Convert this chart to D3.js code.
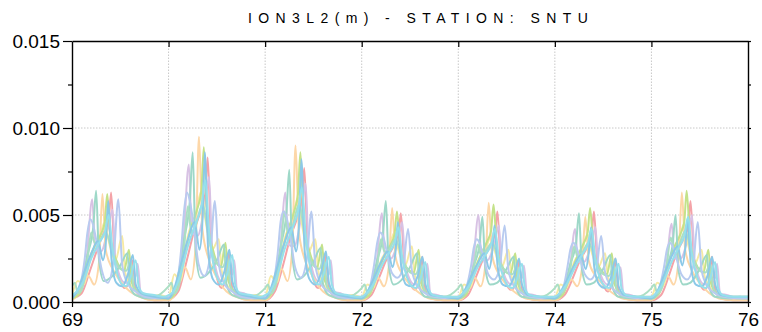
<!DOCTYPE html>
<head>
  <meta charset="utf-8">
  <script src="https://d3js.org/d3.v7.min.js"></script>
</head>
<body style="margin:0">
  <div id="chart"></div>

  <script>
    var width = 762;
    var height = 332;
    var margin = {top: 41, right: 14, bottom: 30, left: 72};

    // x ticks (day of year) and y ticks
    var dayTicks = [69, 70, 71, 72, 73, 74, 75, 76];
    var yTicks = [0, 0.005, 0.010, 0.015];
    var yMinorTicks = [0.0025, 0.0075, 0.0125];
    var days = [69, 70, 71, 72, 73, 74, 75];

    // one row per day (69..75), values in mm (x 0.001 m), sampled at the day fractions
    var fracRed = [0.00, 0.10, 0.18, 0.26, 0.33, 0.38, 0.405, 0.44, 0.50, 0.55, 0.60, 0.625, 0.66, 0.72, 0.85];
    var red = [
      [0.2, 0.5, 1.7, 3.0, 4.0, 4.7, 6.3, 2.7, 1.2, 0.8, 1.4, 2.4, 0.7, 0.3, 0.1],
      [0.15, 0.6, 2.2, 4.0, 5.2, 6.2, 8.3, 3.5, 1.4, 0.8, 1.6, 2.8, 0.8, 0.3, 0.1],
      [0.1, 0.6, 2.0, 3.7, 4.8, 5.8, 7.7, 3.3, 1.3, 0.8, 1.5, 2.7, 0.8, 0.3, 0.1],
      [0.1, 0.4, 1.4, 2.5, 3.2, 3.8, 5.1, 2.3, 1.1, 0.7, 1.3, 2.6, 0.7, 0.2, 0.1],
      [0.1, 0.4, 1.4, 2.5, 3.2, 3.9, 5.2, 2.2, 1.0, 0.7, 1.2, 2.4, 0.7, 0.2, 0.1],
      [0.1, 0.4, 1.3, 2.4, 3.1, 3.8, 5.2, 2.2, 1.0, 0.6, 1.2, 2.5, 0.6, 0.2, 0.1],
      [0.1, 0.4, 1.5, 2.8, 3.6, 4.3, 5.8, 2.5, 1.1, 0.7, 1.3, 2.6, 0.7, 0.2, 0.1]
    ];

    var fracLavender = [0.00, 0.08, 0.15, 0.21, 0.24, 0.30, 0.38, 0.42, 0.45, 0.55, 0.66, 0.68, 0.71, 0.78, 0.90];
    var lavender = [
      [0.3, 0.7, 2.4, 5.9, 3.0, 2.9, 4.4, 5.3, 2.4, 1.1, 1.5, 2.2, 0.6, 0.4, 0.2],
      [0.2, 0.8, 3.2, 7.9, 4.0, 3.8, 5.8, 7.2, 3.2, 1.2, 1.6, 2.4, 0.6, 0.5, 0.2],
      [0.2, 0.7, 2.6, 6.3, 3.3, 3.2, 5.2, 6.8, 3.0, 1.2, 1.6, 2.4, 0.6, 0.5, 0.2],
      [0.2, 0.5, 2.0, 5.1, 2.6, 2.5, 3.6, 4.6, 2.1, 1.0, 1.4, 2.2, 0.5, 0.4, 0.2],
      [0.2, 0.5, 2.0, 5.0, 2.5, 2.4, 3.5, 4.4, 2.0, 1.0, 1.4, 2.1, 0.5, 0.4, 0.2],
      [0.2, 0.5, 1.7, 4.2, 2.3, 2.3, 3.4, 4.3, 2.0, 1.0, 1.3, 2.0, 0.5, 0.4, 0.2],
      [0.2, 0.5, 1.9, 4.5, 2.5, 2.5, 3.8, 5.0, 2.2, 1.0, 1.4, 2.2, 0.5, 0.4, 0.2]
    ];

    var fracYellow = [0.00, 0.06, 0.12, 0.20, 0.28, 0.34, 0.38, 0.45, 0.52, 0.55, 0.60, 0.70, 0.80, 0.90];
    var yellow = [
      [0.4, 1.2, 1.0, 2.8, 3.6, 4.6, 3.5, 2.4, 3.8, 1.7, 1.0, 0.5, 0.3, 0.4],
      [0.3, 1.6, 1.2, 3.8, 5.0, 6.4, 4.8, 3.0, 3.6, 1.8, 1.0, 0.5, 0.3, 0.4],
      [0.3, 1.5, 1.1, 3.6, 4.7, 6.0, 4.5, 2.9, 3.6, 1.8, 1.0, 0.5, 0.3, 0.4],
      [0.3, 1.0, 0.8, 2.4, 3.1, 4.0, 3.0, 2.1, 3.2, 1.5, 0.9, 0.4, 0.3, 0.3],
      [0.3, 1.0, 0.8, 2.3, 3.0, 3.8, 2.9, 2.0, 3.0, 1.5, 0.9, 0.4, 0.3, 0.3],
      [0.3, 1.0, 0.8, 2.3, 3.0, 3.9, 2.9, 2.0, 2.8, 1.4, 0.8, 0.4, 0.3, 0.3],
      [0.3, 1.1, 0.9, 2.6, 3.5, 4.5, 3.3, 2.2, 3.0, 1.5, 0.9, 0.4, 0.3, 0.3]
    ];

    var fracPeach = [0.00, 0.06, 0.12, 0.17, 0.23, 0.28, 0.315, 0.35, 0.42, 0.50, 0.60, 0.70, 0.85];
    var peach = [
      [0.1, 0.4, 1.1, 1.5, 1.0, 2.3, 6.2, 3.0, 1.9, 1.2, 0.6, 0.3, 0.1],
      [0.1, 0.4, 1.4, 2.0, 1.3, 3.2, 9.5, 4.2, 2.4, 1.4, 0.6, 0.3, 0.1],
      [0.1, 0.4, 1.3, 1.9, 1.2, 3.0, 9.0, 4.0, 2.3, 1.4, 0.6, 0.3, 0.1],
      [0.1, 0.3, 1.0, 1.4, 0.9, 2.0, 5.4, 2.6, 1.6, 1.0, 0.5, 0.2, 0.1],
      [0.1, 0.3, 1.0, 1.4, 0.9, 2.1, 5.7, 2.7, 1.6, 1.0, 0.5, 0.2, 0.1],
      [0.1, 0.3, 0.9, 1.3, 0.9, 1.9, 4.9, 2.4, 1.5, 1.0, 0.5, 0.2, 0.1],
      [0.1, 0.4, 1.1, 1.5, 1.0, 2.3, 6.3, 3.0, 1.8, 1.1, 0.5, 0.2, 0.1]
    ];

    var fracGreen = [0.00, 0.08, 0.16, 0.24, 0.30, 0.34, 0.365, 0.40, 0.46, 0.54, 0.59, 0.62, 0.70, 0.80, 0.90];
    var green = [
      [0.2, 0.5, 2.0, 3.3, 3.9, 4.6, 6.2, 3.6, 2.4, 1.8, 3.0, 1.1, 0.5, 0.3, 0.2],
      [0.2, 0.6, 2.6, 4.4, 5.4, 6.4, 8.9, 4.8, 3.0, 2.0, 3.4, 1.2, 0.5, 0.3, 0.2],
      [0.2, 0.6, 2.5, 4.2, 5.2, 6.2, 8.6, 4.6, 2.9, 2.0, 3.3, 1.2, 0.5, 0.3, 0.2],
      [0.2, 0.4, 1.6, 2.7, 3.3, 3.9, 5.2, 3.0, 2.0, 1.7, 3.0, 1.0, 0.4, 0.3, 0.2],
      [0.2, 0.4, 1.7, 2.8, 3.5, 4.1, 5.6, 3.1, 2.0, 1.6, 2.8, 1.0, 0.4, 0.3, 0.2],
      [0.2, 0.4, 1.6, 2.7, 3.4, 4.0, 5.4, 3.0, 2.0, 1.6, 2.8, 1.0, 0.4, 0.3, 0.2],
      [0.2, 0.5, 1.9, 3.2, 3.9, 4.6, 6.4, 3.5, 2.2, 1.7, 3.0, 1.0, 0.4, 0.3, 0.2]
    ];

    var fracTeal = [0.00, 0.08, 0.16, 0.22, 0.25, 0.28, 0.33, 0.40, 0.50, 0.575, 0.60, 0.66, 0.80, 0.92];
    var teal = [
      [0.3, 0.8, 2.7, 4.3, 6.4, 2.4, 1.2, 1.4, 2.1, 2.8, 0.9, 0.4, 0.2, 0.3],
      [0.2, 1.0, 3.6, 5.8, 8.6, 3.0, 1.4, 1.6, 2.4, 3.3, 1.0, 0.4, 0.2, 0.3],
      [0.2, 0.9, 3.2, 5.1, 7.6, 2.7, 1.3, 1.5, 2.3, 3.1, 1.0, 0.4, 0.2, 0.3],
      [0.2, 0.7, 2.4, 3.9, 5.8, 2.1, 1.0, 1.2, 2.0, 2.8, 0.8, 0.3, 0.2, 0.3],
      [0.2, 0.6, 2.1, 3.3, 4.9, 1.9, 1.0, 1.1, 1.9, 2.6, 0.8, 0.3, 0.2, 0.3],
      [0.2, 0.6, 2.2, 3.4, 5.1, 1.9, 1.0, 1.1, 1.9, 2.7, 0.8, 0.3, 0.2, 0.3],
      [0.2, 0.6, 2.1, 3.3, 5.0, 1.8, 1.0, 1.1, 1.9, 2.7, 0.8, 0.3, 0.2, 0.3]
    ];

    var fracMint = [0.00, 0.03, 0.06, 0.10, 0.16, 0.20, 0.235, 0.28, 0.35, 0.42, 0.50, 0.56, 0.61, 0.64, 0.72, 0.85];
    var mint = [
      [0.9, 1.1, 0.5, 0.7, 2.4, 4.0, 3.4, 3.5, 4.0, 2.8, 1.9, 1.8, 2.3, 0.8, 0.4, 0.3],
      [0.9, 1.1, 0.5, 0.8, 3.0, 5.5, 4.0, 4.4, 5.6, 3.6, 2.2, 2.0, 2.6, 0.9, 0.4, 0.3],
      [0.8, 1.0, 0.5, 0.8, 2.8, 5.2, 4.0, 4.3, 5.6, 3.5, 2.1, 1.9, 2.5, 0.9, 0.4, 0.3],
      [0.8, 1.0, 0.5, 0.7, 2.0, 3.6, 2.9, 3.0, 3.6, 2.5, 1.7, 1.6, 2.2, 0.8, 0.3, 0.3],
      [0.8, 1.0, 0.5, 0.7, 1.9, 3.3, 2.7, 2.9, 3.4, 2.4, 1.7, 1.6, 2.1, 0.8, 0.3, 0.3],
      [0.8, 1.0, 0.5, 0.7, 1.9, 3.2, 2.6, 2.8, 3.4, 2.4, 1.6, 1.5, 2.1, 0.7, 0.3, 0.3],
      [0.8, 1.0, 0.5, 0.7, 2.2, 3.7, 3.0, 3.2, 4.1, 2.7, 1.8, 1.7, 2.2, 0.8, 0.3, 0.3]
    ];

    var fracPeriwinkle = [0.00, 0.08, 0.13, 0.16, 0.19, 0.22, 0.26, 0.31, 0.37, 0.43, 0.48, 0.52, 0.58, 0.66, 0.75, 0.90];
    var periwinkle = [
      [0.3, 0.9, 2.4, 4.0, 4.75, 4.4, 3.3, 1.8, 1.1, 2.4, 5.9, 2.1, 1.0, 0.6, 0.3, 0.2],
      [0.3, 1.0, 3.0, 5.2, 6.3, 5.8, 4.4, 2.2, 1.5, 2.6, 5.8, 2.2, 1.0, 0.6, 0.3, 0.2],
      [0.3, 1.0, 2.8, 4.6, 5.2, 4.9, 3.8, 2.0, 1.4, 2.4, 5.2, 2.1, 1.0, 0.6, 0.3, 0.2],
      [0.3, 0.8, 2.2, 3.4, 4.0, 3.8, 2.9, 1.7, 1.4, 2.0, 4.2, 1.8, 0.9, 0.5, 0.3, 0.2],
      [0.3, 0.8, 2.0, 3.1, 3.6, 3.4, 2.6, 1.6, 1.3, 2.0, 4.4, 1.8, 0.9, 0.5, 0.3, 0.2],
      [0.3, 0.7, 2.0, 3.0, 3.4, 3.2, 2.5, 1.6, 1.3, 1.9, 3.8, 1.7, 0.9, 0.5, 0.3, 0.2],
      [0.3, 0.8, 2.0, 3.0, 3.4, 3.2, 2.5, 1.6, 1.3, 2.0, 4.6, 1.8, 0.9, 0.5, 0.3, 0.2]
    ];

    var fracSky = [0.00, 0.06, 0.12, 0.20, 0.27, 0.32, 0.35, 0.375, 0.41, 0.46, 0.52, 0.58, 0.63, 0.66, 0.72, 0.85];
    var sky = [
      [0.2, 0.7, 1.6, 2.8, 3.5, 2.4, 3.4, 5.8, 2.4, 1.1, 0.9, 1.6, 2.7, 1.0, 0.5, 0.3],
      [0.2, 0.8, 2.0, 3.6, 4.6, 3.0, 4.6, 8.6, 3.0, 1.3, 1.0, 1.8, 3.0, 1.2, 0.5, 0.3],
      [0.2, 0.8, 1.9, 3.4, 4.3, 2.9, 4.4, 8.2, 2.9, 1.3, 1.0, 1.7, 2.9, 1.1, 0.5, 0.3],
      [0.2, 0.6, 1.3, 2.3, 2.9, 2.0, 2.9, 4.6, 2.0, 1.0, 0.9, 1.5, 2.6, 1.0, 0.4, 0.3],
      [0.2, 0.6, 1.3, 2.2, 2.8, 1.9, 2.8, 4.4, 1.9, 1.0, 0.9, 1.5, 2.5, 1.0, 0.4, 0.3],
      [0.2, 0.6, 1.2, 2.1, 2.7, 1.9, 2.8, 4.3, 1.9, 1.0, 0.8, 1.4, 2.5, 0.9, 0.4, 0.3],
      [0.2, 0.6, 1.4, 2.5, 3.2, 2.1, 3.1, 4.8, 2.0, 1.0, 0.9, 1.5, 2.6, 1.0, 0.4, 0.3]
    ];

    var fracCyan = [0.00, 0.05, 0.12, 0.20, 0.28, 0.34, 0.38, 0.42, 0.47, 0.52, 0.56, 0.60, 0.66, 0.69, 0.74, 0.85, 0.95];
    var cyan = [
      [0.4, 0.6, 1.2, 2.5, 3.4, 4.0, 5.0, 3.0, 1.6, 1.0, 0.9, 1.3, 2.4, 0.9, 0.5, 0.4, 0.3],
      [0.4, 0.6, 1.5, 3.2, 4.5, 5.5, 7.0, 4.0, 2.0, 1.2, 1.0, 1.5, 2.7, 1.0, 0.5, 0.4, 0.3],
      [0.4, 0.6, 1.4, 3.0, 4.2, 5.2, 6.6, 3.8, 1.9, 1.1, 1.0, 1.5, 2.6, 1.0, 0.5, 0.4, 0.3],
      [0.3, 0.5, 1.0, 2.0, 2.8, 3.4, 4.3, 2.5, 1.4, 0.9, 0.8, 1.2, 2.3, 0.8, 0.4, 0.3, 0.3],
      [0.3, 0.5, 1.0, 2.0, 2.7, 3.3, 4.2, 2.4, 1.4, 0.9, 0.8, 1.2, 2.2, 0.8, 0.4, 0.3, 0.3],
      [0.3, 0.5, 1.0, 1.9, 2.7, 3.3, 4.2, 2.4, 1.3, 0.9, 0.8, 1.2, 2.2, 0.8, 0.4, 0.3, 0.3],
      [0.3, 0.5, 1.1, 2.2, 3.1, 3.8, 4.9, 2.7, 1.5, 0.9, 0.8, 1.2, 2.3, 0.8, 0.4, 0.3, 0.3]
    ];

    // value at the right edge (day 76) for each series, same order as below
    var endValues = [0.1, 0.2, 0.3, 0.1, 0.2, 0.2, 0.3, 0.2, 0.3, 0.3];

    var series = [
      {name: 'red', frac: fracRed, vals: red, color: '#f4a3a8'},
      {name: 'lavender', frac: fracLavender, vals: lavender, color: '#d8c2e4'},
      {name: 'yellow', frac: fracYellow, vals: yellow, color: '#f6eaa4'},
      {name: 'peach', frac: fracPeach, vals: peach, color: '#fdd7a8'},
      {name: 'green', frac: fracGreen, vals: green, color: '#c4e28a'},
      {name: 'teal', frac: fracTeal, vals: teal, color: '#9ed8c8'},
      {name: 'mint', frac: fracMint, vals: mint, color: '#abdfc4'},
      {name: 'periwinkle', frac: fracPeriwinkle, vals: periwinkle, color: '#b8cbf0'},
      {name: 'sky', frac: fracSky, vals: sky, color: '#8cc9e8'},
      {name: 'cyan', frac: fracCyan, vals: cyan, color: '#96e0ec'}
    ];

    var svg = d3.select('#chart')
      .append('svg')
        .attr('width', width)
        .attr('height', height)
        .style('display', 'block')
        .style('font-family', 'Liberation Sans, Arial, sans-serif');

    var x = d3.scaleLinear().domain([69, 76]).range([margin.left, width - margin.right]);
    var y = d3.scaleLinear().domain([0, 0.015]).range([height - margin.bottom, margin.top]);

    // dotted grid
    svg.append('g')
      .selectAll('line')
      .data(dayTicks.slice(1, -1))
      .join('line')
        .attr('x1', d => x(d)).attr('x2', d => x(d))
        .attr('y1', y(0)).attr('y2', y(0.015))
        .attr('stroke', '#c8c8c8').attr('stroke-dasharray', '1.5,1.5');
    svg.append('g')
      .selectAll('line')
      .data(yTicks.slice(1, -1))
      .join('line')
        .attr('x1', x(69)).attr('x2', x(76))
        .attr('y1', d => y(d)).attr('y2', d => y(d))
        .attr('stroke', '#c8c8c8').attr('stroke-dasharray', '1.5,1.5');

    svg.append('clipPath').attr('id', 'clip')
      .append('rect')
        .attr('x', x(69)).attr('y', y(0.015))
        .attr('width', x(76) - x(69)).attr('height', y(0) - y(0.015));

    var line = d3.line()
      .x(d => x(d[0]))
      .y(d => y(d[1]))
      .curve(d3.curveMonotoneX);

    series.forEach(function(s, k) {
      var pts = [];
      days.forEach(function(day, i) {
        s.frac.forEach(function(f, j) {
          pts.push([day + f, s.vals[i][j] * 1e-3]);
        });
      });
      pts.push([76, endValues[k] * 1e-3]);

      svg.append('path')
        .datum(pts)
        .attr('clip-path', 'url(#clip)')
        .attr('fill', 'none')
        .attr('stroke', s.color)
        .attr('stroke-width', 2)
        .attr('d', line);
    });

    // frame and axes
    var fs = '19px';
    var bottom = svg.append('g')
      .attr('transform', 'translate(0,' + y(0) + ')')
      .call(d3.axisBottom(x).tickValues(dayTicks).tickFormat(d3.format('d')).tickSize(5).tickSizeOuter(0).tickPadding(6));
    bottom.selectAll('text').style('font-size', fs).attr('fill', '#000');

    var left = svg.append('g')
      .attr('transform', 'translate(' + x(69) + ',0)')
      .call(d3.axisLeft(y).tickValues(yTicks).tickFormat(d3.format('.3f')).tickSize(9).tickSizeOuter(0).tickPadding(3));
    left.selectAll('text').style('font-size', fs).attr('fill', '#000').attr('dy', '0.36em');

    svg.append('g')
      .attr('transform', 'translate(' + x(69) + ',0)')
      .call(d3.axisLeft(y).tickValues(yMinorTicks).tickFormat('').tickSize(4).tickSizeOuter(0))
      .select('.domain').remove();

    svg.append('g')
      .attr('transform', 'translate(0,' + y(0.015) + ')')
      .call(d3.axisBottom(x).tickValues(dayTicks.slice(1, -1)).tickFormat('').tickSize(6).tickSizeOuter(0));

    svg.append('g')
      .attr('transform', 'translate(' + x(76) + ',0)')
      .call(d3.axisRight(y).tickValues(yTicks.concat(yMinorTicks)).tickFormat('').tickSize(3).tickSizeOuter(0));

    svg.selectAll('.domain').attr('stroke', '#000').attr('stroke-width', 1.4);
    svg.selectAll('.tick line').attr('stroke', '#000').attr('stroke-width', 1.2);

    // title
    svg.append('text')
      .attr('x', 248)
      .attr('y', 23)
      .style('font-size', '14px')
      .style('letter-spacing', '6.4px')
      .attr('fill', '#000')
      .text('ION3L2(m) - STATION: SNTU');
  </script>
</body>
